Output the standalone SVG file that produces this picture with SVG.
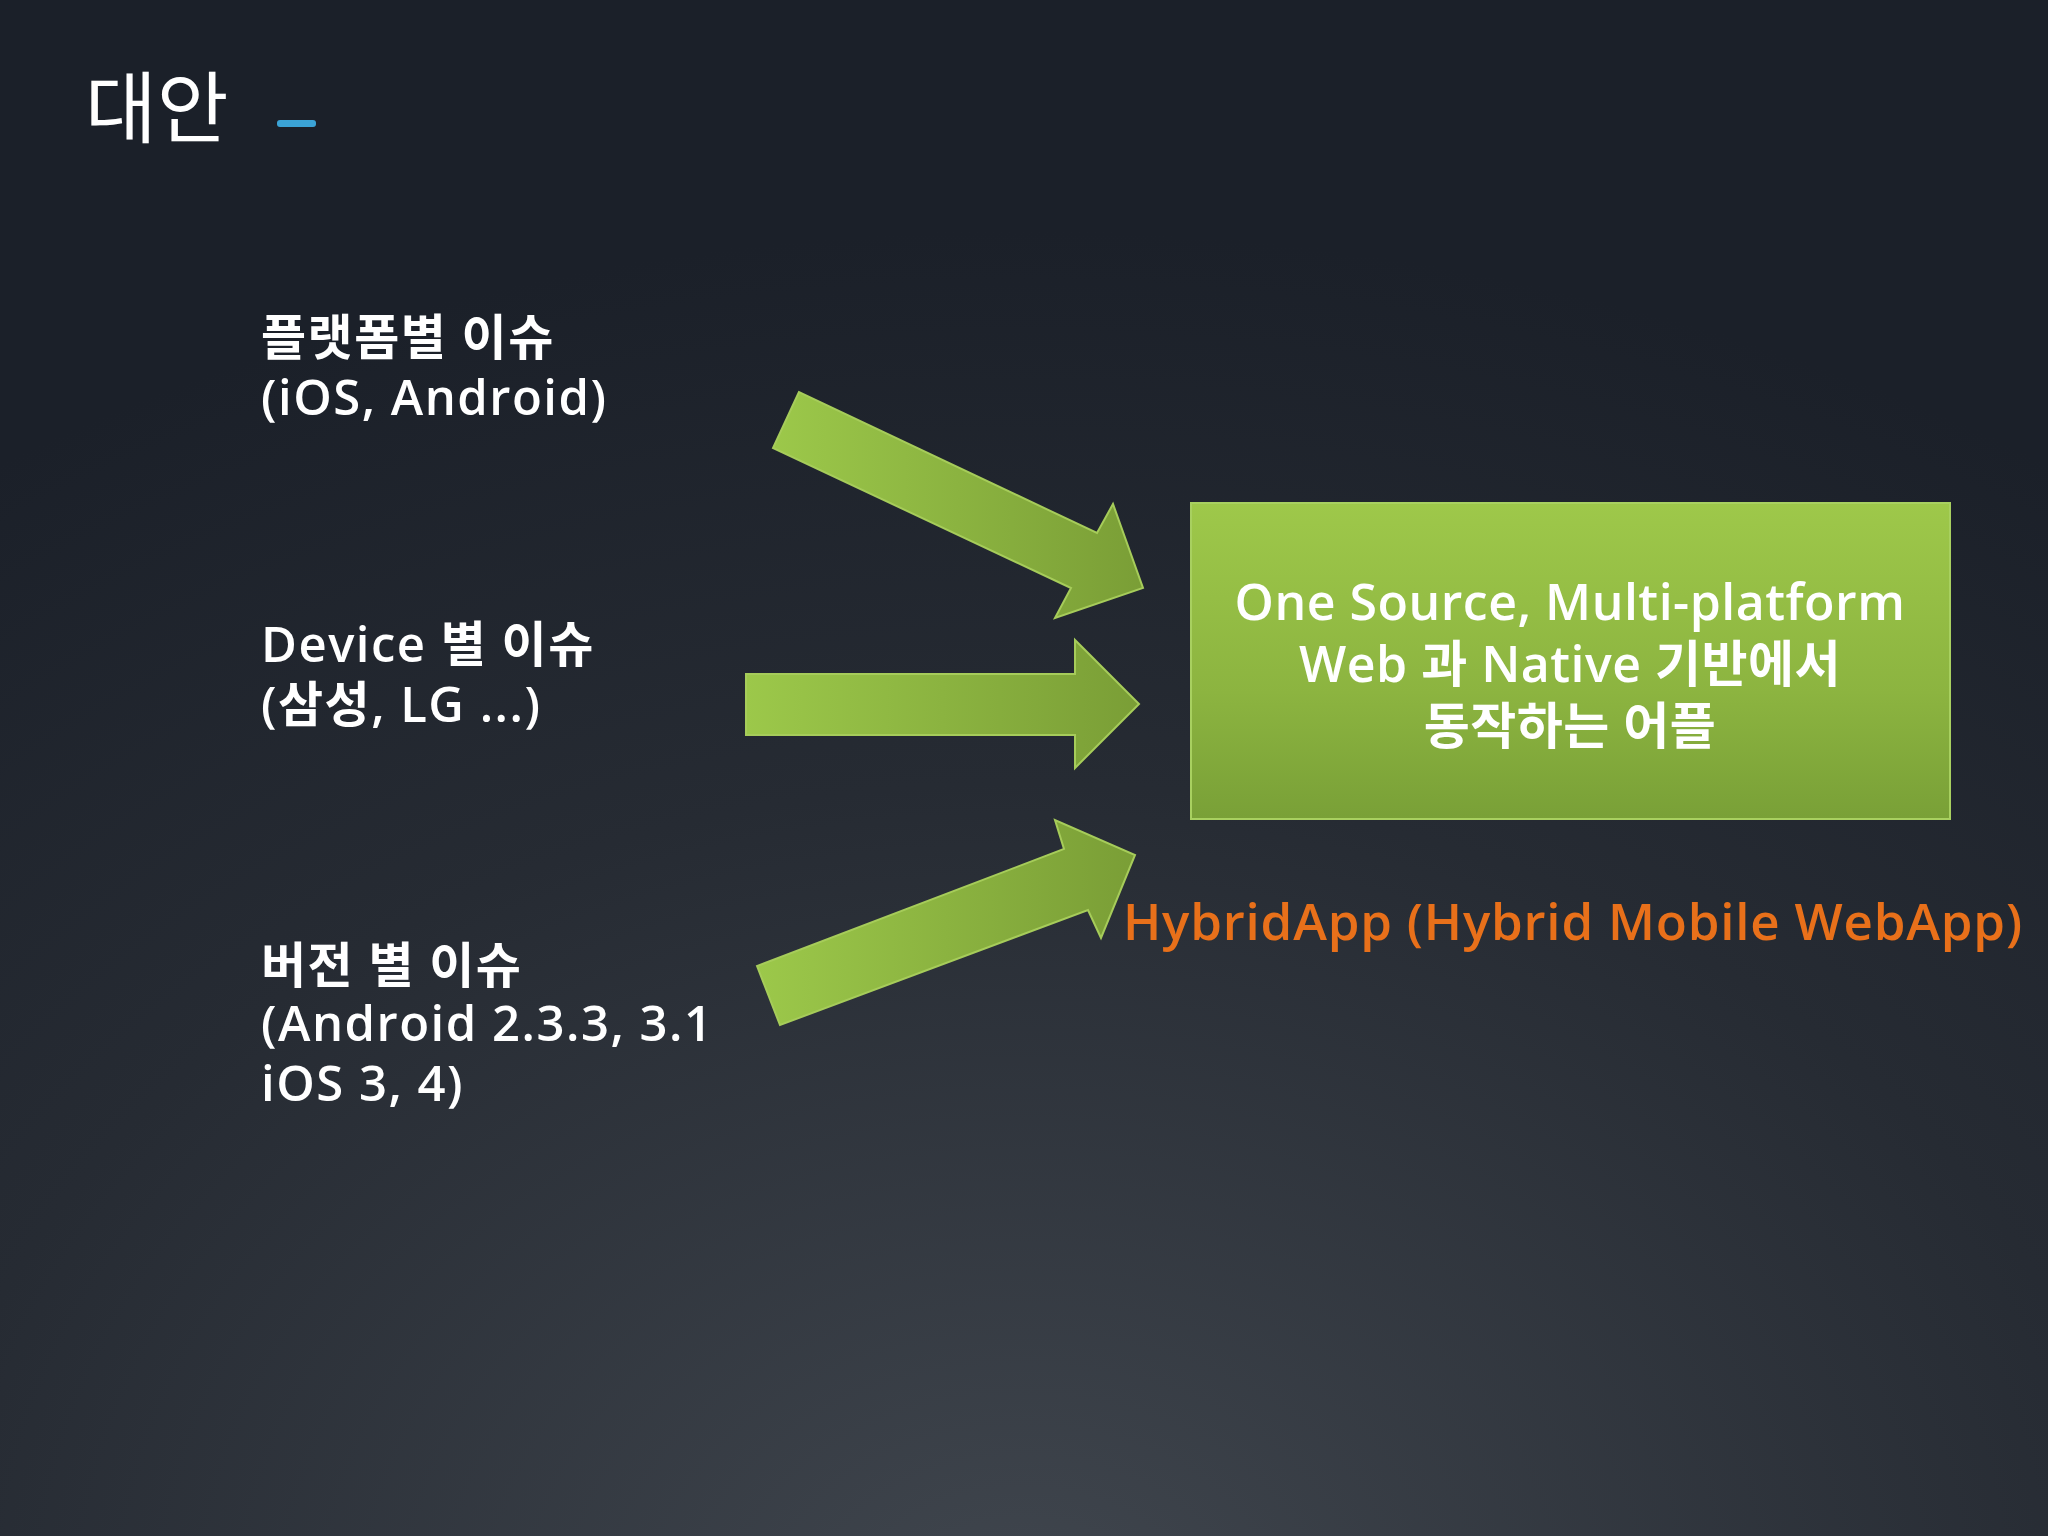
<svg xmlns="http://www.w3.org/2000/svg" width="2048" height="1536" viewBox="0 0 2048 1536">
<defs>
<radialGradient id="bg" cx="0.5" cy="1.05" r="0.9">
<stop offset="0" stop-color="#40464e"/>
<stop offset="0.6" stop-color="#262b33"/>
<stop offset="1" stop-color="#1b2029"/>
</radialGradient>
<linearGradient id="gb" x1="0" y1="0" x2="0" y2="1">
<stop offset="0" stop-color="#9ec84a"/>
<stop offset="0.6" stop-color="#8cb440"/>
<stop offset="1" stop-color="#79a037"/>
</linearGradient>
<linearGradient id="ga" x1="0" y1="0" x2="1" y2="0">
<stop offset="0" stop-color="#9cc84a"/>
<stop offset="1" stop-color="#7a9e36"/>
</linearGradient>
<style>
.t{font-family:"Open Sans","Noto Sans CJK KR",sans-serif;fill:#fff;font-size:49px;font-weight:600;letter-spacing:1.5px}
.b{font-family:"Open Sans","Noto Sans CJK KR",sans-serif;fill:#fff;font-size:50px;font-weight:600;text-anchor:middle;letter-spacing:0.5px}
.arr{fill:url(#ga);stroke:#a6cc5a;stroke-width:2}
</style>
</defs>
<rect width="2048" height="1536" fill="url(#bg)"/>
<g id="title">
<text x="85" y="137" font-family="Noto Sans CJK KR, sans-serif" font-size="78" fill="#fff">대안</text>
<rect x="277" y="120" width="39" height="7" rx="3" fill="#3ba3d6"/>
</g>
<g id="issue1"><text class="t" x="261" y="355">플랫폼별 이슈</text><text class="t" x="261" y="415">(iOS, Android)</text></g>
<g id="issue2"><text class="t" x="261" y="662">Device 별 이슈</text><text class="t" x="261" y="722">(삼성, LG ...)</text></g>
<g id="issue3"><text class="t" x="261" y="983">버전 별 이슈</text><text class="t" x="261" y="1041">(Android 2.3.3, 3.1</text><text class="t" x="261" y="1101">iOS 3, 4)</text></g>
<g id="connectors">
<polygon class="arr" points="799,392 773,448 1071,588 1055,618 1143,588 1113,504 1097,533"/>
<polygon class="arr" points="746,674 746,735 1075,735 1075,768 1139,704 1075,640 1075,674"/>
<polygon class="arr" points="757,966 780,1025 1088,910 1101,938 1135,855 1055,820 1064,849"/>
</g>
<g id="result">
<rect x="1191" y="503" width="759" height="316" fill="url(#gb)" stroke="#a8d060" stroke-width="2"/>
<text class="b" x="1570" y="620">One Source, Multi-platform</text>
<text class="b" x="1570" y="682">Web 과 Native  기반에서</text>
<text class="b" x="1570" y="744">동작하는 어플</text>
</g>
<g id="label"><text x="1123" y="940" font-family="Open Sans, sans-serif" font-weight="600" font-size="51" letter-spacing="0.8" fill="#e8701a">HybridApp (Hybrid Mobile WebApp)</text></g>
</svg>
